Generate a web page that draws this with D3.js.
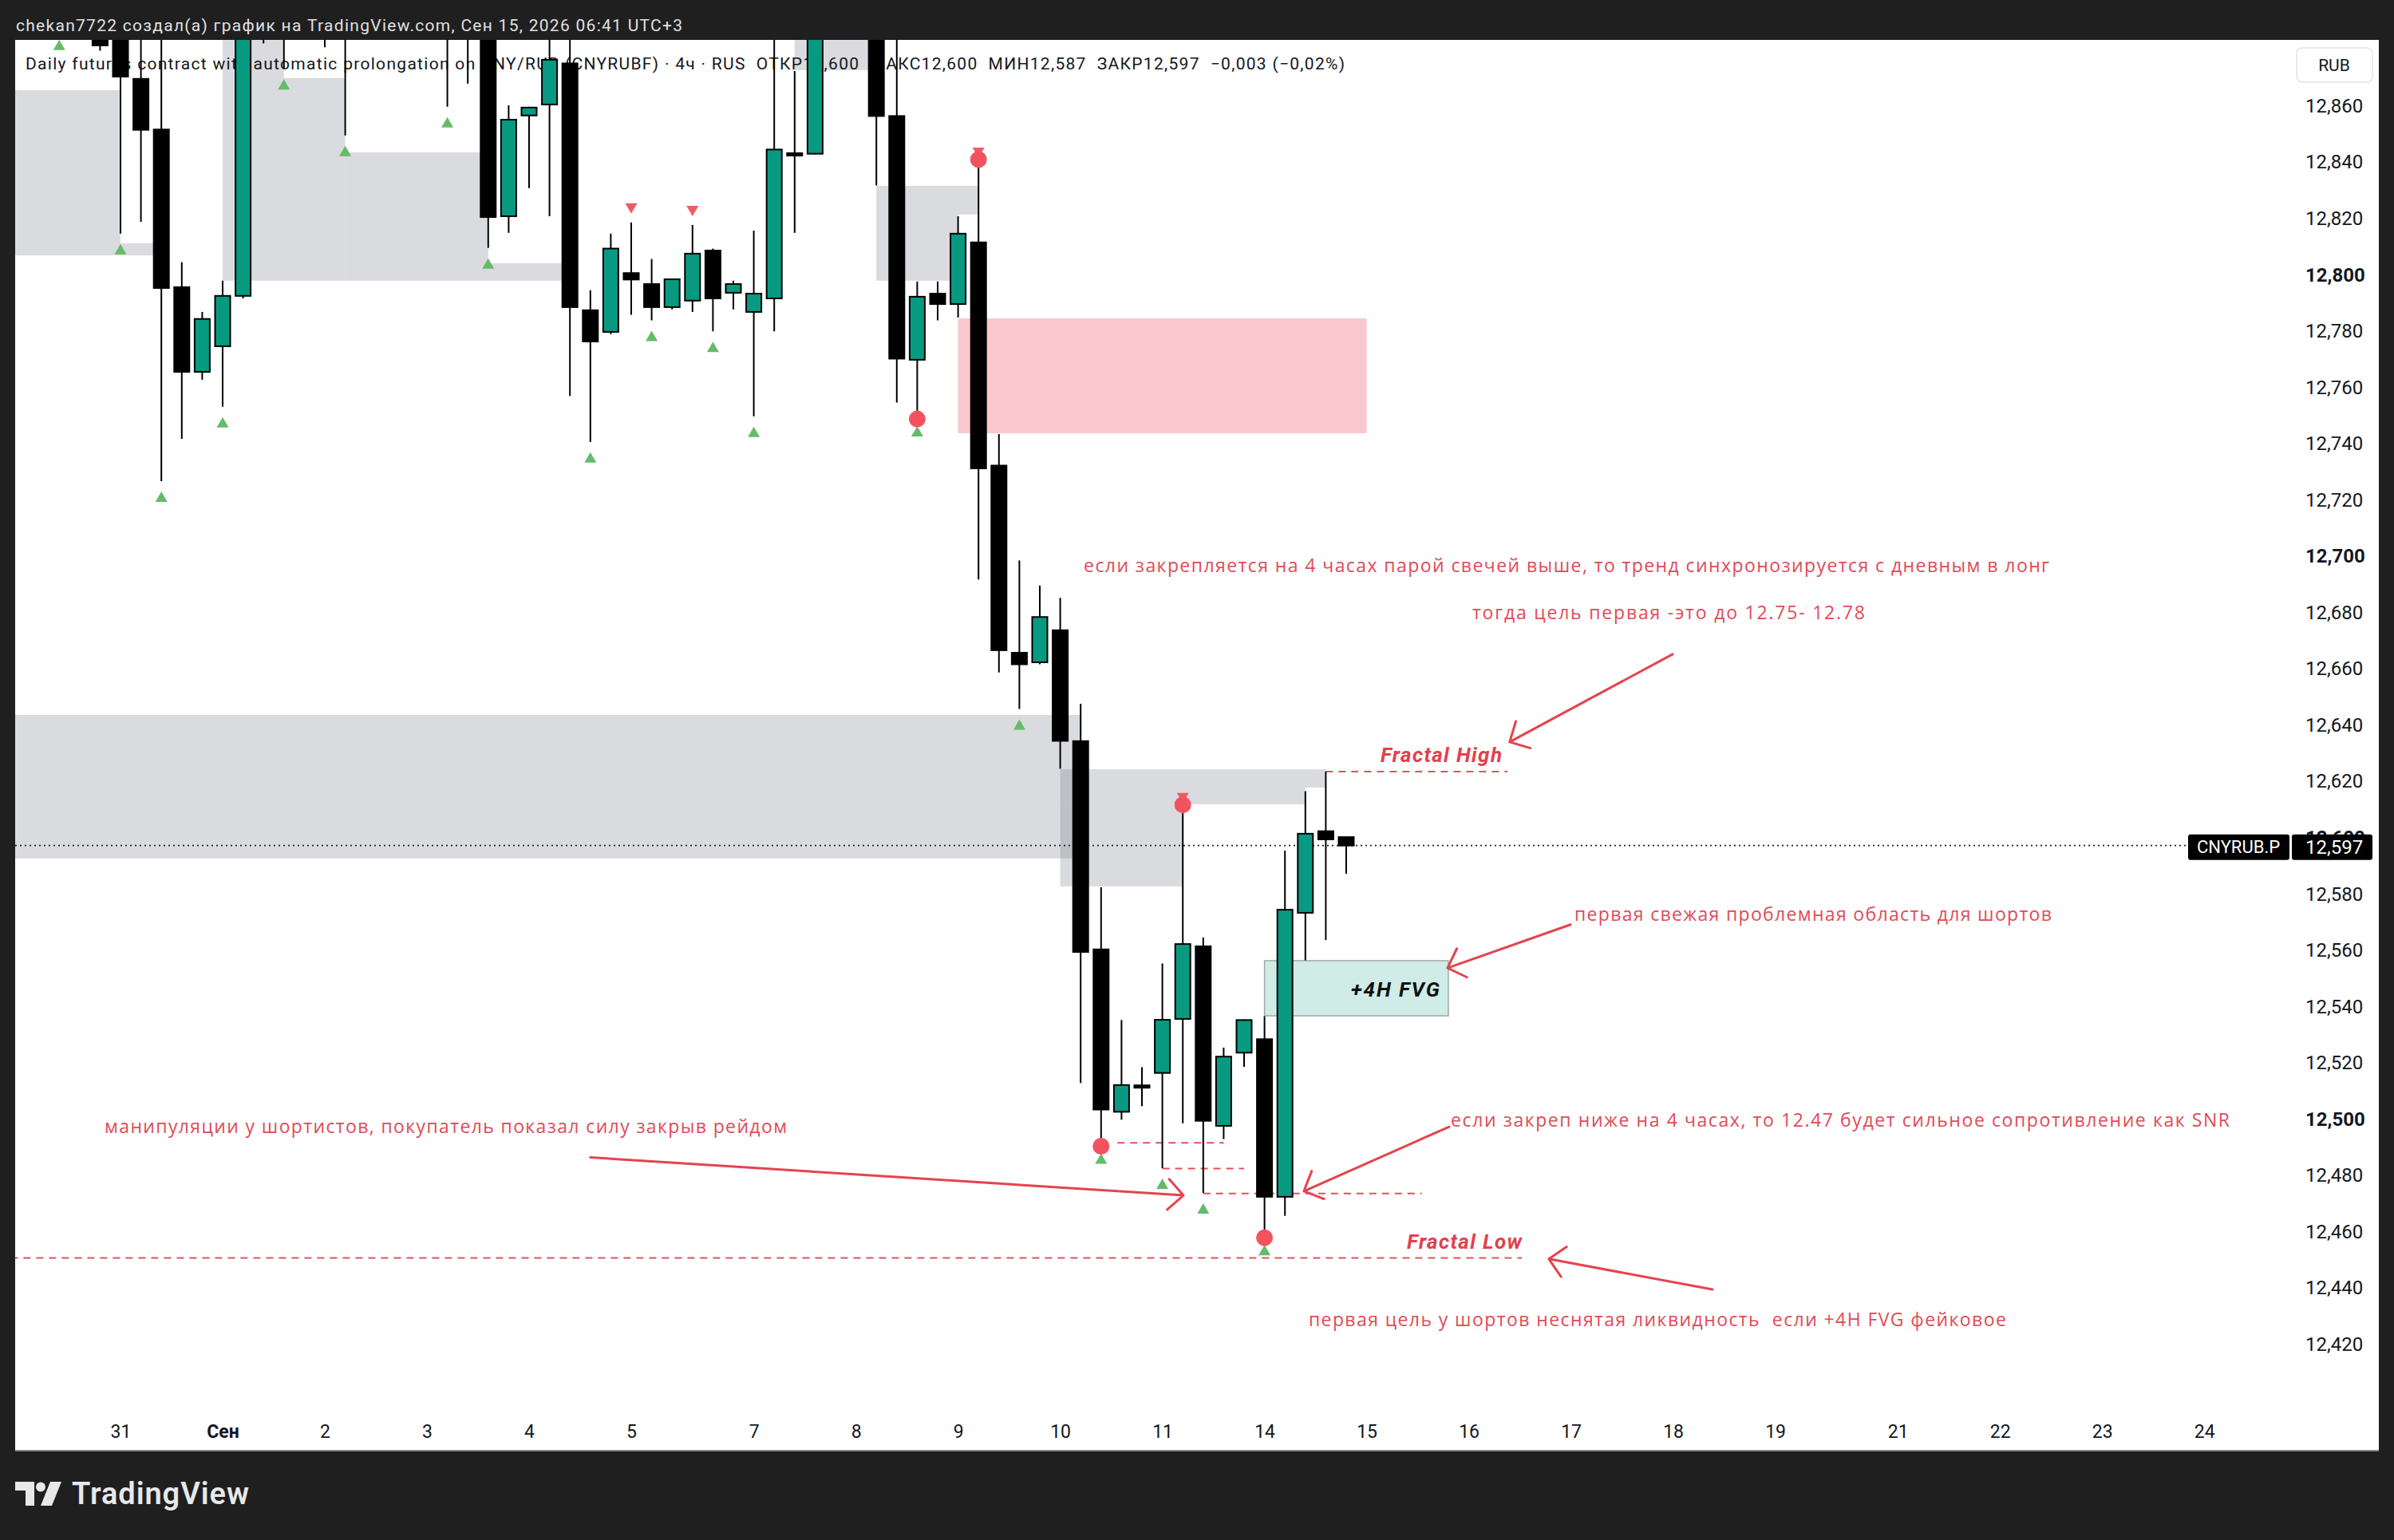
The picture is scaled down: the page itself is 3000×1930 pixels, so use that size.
<!DOCTYPE html>
<html><head><meta charset="utf-8">
<script src="https://cdn.jsdelivr.net/npm/d3@7/dist/d3.min.js"></script>
<style>
html,body{margin:0;padding:0;background:#1f1f1f;}
svg{display:block;}
text{font-family:Roboto,"Open Sans",sans-serif;}
</style></head><body>
<svg id="chart" width="3000" height="1930"></svg>
<script>
// ---------------- DATA ----------------
// bar index (4h bars, 0 = first bar of 31 Aug)
const barIdx = [-1,0,1,2,3,4,5,6,7,8,10,11,16,17,18,19,20,21,22,23,24,25,26,27,28,29,30,31,32,33,34,37,38,39,40,41,42,43,44,45,46,47,48,49,50,51,52,53,54,55,56,57,58,59,60];
const openP  = [12.886,12.889,12.8694,12.8514,12.7954,12.7653,12.7744,12.7923,12.900,12.895,12.905,12.900,12.895,12.900,12.890,12.8206,12.8564,12.8603,12.8749,12.7872,12.7795,12.8004,12.7965,12.7883,12.7906,12.8084,12.7934,12.7866,12.7914,12.8430,12.8428,12.895,12.8562,12.7696,12.7931,12.7894,12.8113,12.7320,12.6655,12.6621,12.6735,12.6341,12.5601,12.5024,12.5118,12.5162,12.5354,12.5612,12.4974,12.5234,12.5282,12.4722,12.5731,12.6021,12.600];
const highP  = [12.892,12.895,12.890,12.890,12.8043,12.7866,12.7977,12.900,12.910,12.905,12.915,12.910,12.905,12.910,12.900,12.8600,12.8595,12.890,12.890,12.7943,12.8144,12.8184,12.8054,12.7985,12.8175,12.8091,12.7977,12.8155,12.890,12.8722,12.900,12.900,12.890,12.7974,12.7974,12.8206,12.8382,12.7432,12.6983,12.6894,12.6850,12.6474,12.5822,12.5350,12.5182,12.5551,12.6089,12.5643,12.5252,12.5352,12.5364,12.5952,12.6163,12.6233,12.600];
const lowP   = [12.8794,12.8144,12.8186,12.7265,12.7415,12.7625,12.7529,12.7914,12.882,12.873,12.8806,12.8493,12.8595,12.8677,12.8093,12.8147,12.8306,12.8206,12.7567,12.7404,12.7787,12.7856,12.7836,12.7875,12.7866,12.7797,12.7875,12.7495,12.7797,12.8147,12.8425,12.8315,12.7544,12.7514,12.7836,12.7846,12.6915,12.6585,12.6455,12.6614,12.6243,12.5126,12.4930,12.4996,12.5044,12.4824,12.4983,12.4736,12.4927,12.5184,12.4605,12.4654,12.5562,12.5634,12.587];
const closeP = [12.8813,12.8702,12.8513,12.7951,12.7653,12.7841,12.7923,12.895,12.895,12.900,12.900,12.895,12.900,12.895,12.8203,12.8549,12.8592,12.8762,12.7883,12.7761,12.8091,12.7981,12.7883,12.7982,12.8073,12.7914,12.7965,12.7931,12.8443,12.8428,12.895,12.8562,12.7700,12.7920,12.7894,12.8144,12.7310,12.6664,12.6614,12.6782,12.6342,12.5592,12.5032,12.5119,12.5114,12.5351,12.5620,12.4992,12.5220,12.5350,12.4722,12.5742,12.6012,12.5992,12.597];

const dayIdx    = [0,5,10,15,20,25,31,36,41,46,51,56,61,66,71,76,81,87,92,97,102];
const dayLabels = ["31","Сен","2","3","4","5","7","8","9","10","11","14","15","16","17","18","19","21","22","23","24"];
const priceTicks = [12.42,12.44,12.46,12.48,12.50,12.52,12.54,12.56,12.58,12.60,12.62,12.64,12.66,12.68,12.70,12.72,12.74,12.76,12.78,12.80,12.82,12.84,12.86];
const boldTicks  = [12.50,12.60,12.70,12.80];
const lastPrice = 12.597;

// fractal markers: bar index, anchor price (wick end)
const fractalLowIdx   = [-3,0,2,5,8,11,16,18,23,26,29,31,39,44,48,51,53,56];
const fractalLowPrice = [12.887,12.8144,12.7265,12.7529,12.873,12.8493,12.8595,12.8093,12.7404,12.7836,12.7797,12.7495,12.7514,12.6455,12.4930,12.4824,12.4736,12.4605];
const fractalHighIdx   = [25,28,42,52];
const fractalHighPrice = [12.8184,12.8175,12.8382,12.6089];
const pivotLowIdx  = [39,48,56];
const pivotHighIdx = [42,52];

// zones: [bar from, bar to, price top, price bottom]
const greyZones = [
  [-6,0,12.8654,12.8067],[0,2,12.8110,12.8067],
  [5,8,12.895,12.7977],[8,11,12.8697,12.7977],[11,18,12.8433,12.7977],[18,22,12.8039,12.7977],
  [33,37,12.895,12.8725],
  [37,42,12.8314,12.8212],[37,41,12.8212,12.7977],
  [-6,47,12.6434,12.5924],
  [46,59,12.6241,12.6176],[46,58,12.6176,12.6117],[46,52,12.6117,12.5825]
];
const pinkZone = [41,61,12.7843,12.7435];
const fvgZone  = [56,65,12.5561,12.5365];

// dashed level lines: [bar from, bar to, price]
const dashLevels = [[59,67.9,12.6233],[-6,68.6,12.4505],[48.8,54,12.4914],[51,55,12.4822],[53,63.7,12.4734]];
// arrows: [bar start, price start, bar tip, price tip]
const arrowsData = [[75.98,12.6650,68.0,12.6338],[70.98,12.5689,64.96,12.5535],[65.04,12.4971,57.93,12.4742],[77.93,12.4393,69.92,12.4501],[23.0,12.4862,52.03,12.4727]];
// notes: [bar, price, text, width]
const notes = [
  [47.15,12.6967,"если закрепляется на 4 часах парой свечей выше, то тренд синхронозируется с дневным в лонг",1210],
  [66.17,12.6800,"тогда цель первая -это до 12.75- 12.78",492],
  [71.17,12.5728,"первая свежая проблемная область для шортов",598],
  [65.12,12.4997,"если закреп ниже на 4 часах, то 12.47 будет сильное сопротивление как SNR",976],
  [58.16,12.4288,"первая цель у шортов неснятая ликвидность  если +4H FVG фейковое",874],
  [-0.78,12.4974,"манипуляции у шортистов, покупатель показал силу закрыв рейдом",855]
];
const fractalLabels = [["Fractal High",61.68,12.6292,152],["Fractal Low",62.97,12.4563,144]];

// ---------------- DRAW ----------------
const W=3000,H=1930;
const plot={l:19,r:2981,t:50,b:1817};
const x = d3.scaleLinear().domain([0,102]).range([151,151+102*25.6]);
const y = d3.scaleLinear().domain([12.42,12.86]).range([1684,132]);
const svg = d3.select("#chart");
const RED="#e5434f", TXT="#e04b57";

svg.append("rect").attr("width",W).attr("height",H).attr("fill","#1f1f1f");
svg.append("rect").attr("x",plot.l).attr("y",plot.t).attr("width",plot.r-plot.l).attr("height",plot.b-plot.t).attr("fill","#fff");
svg.append("line").attr("x1",plot.l).attr("x2",plot.r).attr("y1",plot.b+1).attr("y2",plot.b+1).attr("stroke","#8a8a8a").attr("stroke-width",2);

// top bar text
svg.append("text").attr("x",20).attr("y",32).attr("dominant-baseline","central")
  .attr("font-size",21).attr("fill","#e0e0e0").attr("textLength",835)
  .text("chekan7722 создал(а) график на TradingView.com, Сен 15, 2026 06:41 UTC+3");

svg.append("defs").append("clipPath").attr("id","pc").append("rect")
  .attr("x",plot.l).attr("y",plot.t).attr("width",plot.r-plot.l).attr("height",plot.b-plot.t);
const g = svg.append("g").attr("clip-path","url(#pc)");

const zr = (sel,z)=>sel.attr("x",x(z[0])).attr("width",x(z[1])-x(z[0])).attr("y",y(z[2])).attr("height",y(z[3])-y(z[2]));
greyZones.forEach(z=>zr(g.append("rect"),z).attr("fill","rgba(120,123,134,0.27)"));
zr(g.append("rect"),pinkZone).attr("fill","#f9c8ce");
zr(g.append("rect"),fvgZone).attr("fill","#cfece6").attr("stroke","#a2a8a6").attr("stroke-width",1.5);

// legend
g.append("text").attr("x",32).attr("y",80).attr("dominant-baseline","central")
  .attr("font-size",21).attr("fill","#131722").attr("textLength",1653)
  .attr("xml:space","preserve").style("white-space","pre")
  .text("Daily futures contract with automatic prolongation on CNY/RUB (CNYRUBF) · 4ч · RUS  ОТКР12,600  МАКС12,600  МИН12,587  ЗАКР12,597  −0,003 (−0,02%)");

// last price dotted line
g.append("line").attr("x1",plot.l).attr("x2",2742).attr("y1",y(lastPrice)).attr("y2",y(lastPrice))
  .attr("stroke","#222").attr("stroke-width",1.6).attr("stroke-dasharray","2,4");

// dashed levels
dashLevels.forEach(d=>g.append("line").attr("x1",x(d[0])).attr("x2",x(d[1])).attr("y1",y(d[2])).attr("y2",y(d[2]))
  .attr("stroke","#e4505c").attr("stroke-width",2).attr("stroke-dasharray","9,7"));

// candles
const candles = barIdx.map((b,k)=>({i:b,o:openP[k],h:highP[k],l:lowP[k],c:closeP[k]}));
const bw=19;
const cg = g.append("g");
cg.selectAll("line.w").data(candles).join("line").attr("class","w")
  .attr("x1",d=>x(d.i)).attr("x2",d=>x(d.i)).attr("y1",d=>y(d.h)).attr("y2",d=>y(d.l))
  .attr("stroke","#000").attr("stroke-width",2);
cg.selectAll("rect.b").data(candles).join("rect").attr("class","b")
  .attr("x",d=>x(d.i)-bw/2).attr("width",bw)
  .attr("y",d=>y(Math.max(d.o,d.c)))
  .attr("height",d=>Math.max(3,y(Math.min(d.o,d.c))-y(Math.max(d.o,d.c))))
  .attr("fill",d=>d.c>d.o?"#089981":"#000").attr("stroke","#000").attr("stroke-width",2);

// markers
const triUp = "M0,-7 L7.5,6 L-7.5,6 Z", triDn = "M0,7 L7.5,-6 L-7.5,-6 Z";
fractalLowIdx.forEach((b,k)=>{
  const circ = pivotLowIdx.includes(b);
  g.append("path").attr("d",triUp).attr("fill","#66bb6a")
   .attr("transform",`translate(${x(b)},${y(fractalLowPrice[k])+(circ?26:20)})`);
});
fractalHighIdx.forEach((b,k)=>{
  g.append("path").attr("d",triDn).attr("fill","#f05a66")
   .attr("transform",`translate(${x(b)},${y(fractalHighPrice[k])-18})`);
});
pivotLowIdx.forEach(b=>{const k=fractalLowIdx.indexOf(b);
  g.append("circle").attr("cx",x(b)).attr("cy",y(fractalLowPrice[k])+10).attr("r",10.5).attr("fill","#f2535f");});
pivotHighIdx.forEach(b=>{const k=fractalHighIdx.indexOf(b);
  g.append("circle").attr("cx",x(b)).attr("cy",y(fractalHighPrice[k])-9).attr("r",10.5).attr("fill","#f2535f");});

// FVG label
g.append("text").attr("x",x(64.57)).attr("y",y(12.5459)).attr("dominant-baseline","central").attr("text-anchor","end")
  .attr("font-size",26).attr("font-weight","bold").attr("font-style","italic").attr("fill","#111").attr("textLength",111).text("+4H FVG");

// fractal labels
fractalLabels.forEach(f=>g.append("text").attr("x",x(f[1])).attr("y",y(f[2])).attr("dominant-baseline","central")
  .attr("font-size",26).attr("font-weight","bold").attr("font-style","italic").attr("fill","#e2404d").attr("textLength",f[3]).text(f[0]));

// notes
notes.forEach(n=>g.append("text").attr("x",x(n[0])).attr("y",y(n[1])).attr("dominant-baseline","central")
  .style("font-family","'Open Sans',Roboto,sans-serif")
  .attr("font-size",23).attr("fill",TXT).attr("textLength",n[3]).attr("xml:space","preserve").style("white-space","pre").text(n[2]));

// arrows
arrowsData.forEach(a=>{
  const x1=x(a[0]),y1=y(a[1]),x2=x(a[2]),y2=y(a[3]);
  const ang=Math.atan2(y1-y2,x1-x2), L=27, s=Math.PI/4;
  const p = d3.path();
  p.moveTo(x1,y1); p.lineTo(x2,y2);
  p.moveTo(x2+L*Math.cos(ang+s),y2+L*Math.sin(ang+s)); p.lineTo(x2,y2); p.lineTo(x2+L*Math.cos(ang-s),y2+L*Math.sin(ang-s));
  g.append("path").attr("d",p.toString()).attr("fill","none").attr("stroke",RED).attr("stroke-width",3)
   .attr("stroke-linecap","round").attr("stroke-linejoin","round");
});

// y axis
const fmt = d=>d3.format(".3f")(d).replace(".",",");
const gy = svg.append("g").attr("transform","translate(2889,0)")
  .call(d3.axisRight(y).tickValues(priceTicks).tickFormat(fmt).tickSize(0).tickPadding(0));
gy.select(".domain").remove();
gy.attr("font-family",null).attr("font-size",null);
gy.selectAll("text").attr("font-size",24).attr("fill","#131722").attr("dy","0.35em")
  .attr("font-weight",d=>boldTicks.some(b=>Math.abs(b-d)<1e-6)?"bold":"normal");

// x axis
const gx = svg.append("g").attr("transform","translate(0,1794)")
  .call(d3.axisBottom(x).tickValues(dayIdx).tickFormat((d,k)=>dayLabels[k]).tickSize(0).tickPadding(0));
gx.select(".domain").remove();
gx.attr("font-family",null).attr("font-size",null);
gx.selectAll("text").attr("y",0).attr("dy","0.35em").attr("font-size",23).attr("fill","#131722")
  .attr("font-weight",(d,k)=>dayLabels[k]==="Сен"?"bold":"normal");

// RUB box
svg.append("rect").attr("x",2878).attr("y",60).attr("width",95).attr("height",43).attr("rx",7)
  .attr("fill","#fff").attr("stroke","#e0e3eb").attr("stroke-width",1.5);
svg.append("text").attr("x",2925).attr("y",82).attr("text-anchor","middle").attr("dominant-baseline","central")
  .attr("font-size",21).attr("fill","#131722").text("RUB");

// price labels
const py = y(lastPrice)+2;
svg.append("rect").attr("x",2742).attr("y",py-16).attr("width",127).attr("height",32).attr("rx",3).attr("fill","#000");
svg.append("rect").attr("x",2872).attr("y",py-16).attr("width",101).attr("height",32).attr("rx",3).attr("fill","#000");
svg.append("text").attr("x",2805).attr("y",py).attr("text-anchor","middle").attr("dominant-baseline","central")
  .attr("font-size",22).attr("fill","#fff").text("CNYRUB.P");
svg.append("text").attr("x",2889).attr("y",py).attr("dominant-baseline","central")
  .attr("font-size",24).attr("fill","#fff").text(fmt(lastPrice));

// TradingView logo
const lg = svg.append("g").attr("transform","translate(19,1857)").attr("fill","#e8e8e8");
lg.append("path").attr("d","M0,0 H24 V30 H13 V11 H0 Z");
lg.append("circle").attr("cx",32).attr("cy",6.5).attr("r",6);
lg.append("path").attr("d","M44,0 H58 L46,30 H32 Z");
svg.append("text").attr("x",90).attr("y",1872).attr("dominant-baseline","central")
  .attr("font-size",38).attr("font-weight",600).attr("fill","#e8e8e8").attr("textLength",222).text("TradingView");
</script>
</body></html>
